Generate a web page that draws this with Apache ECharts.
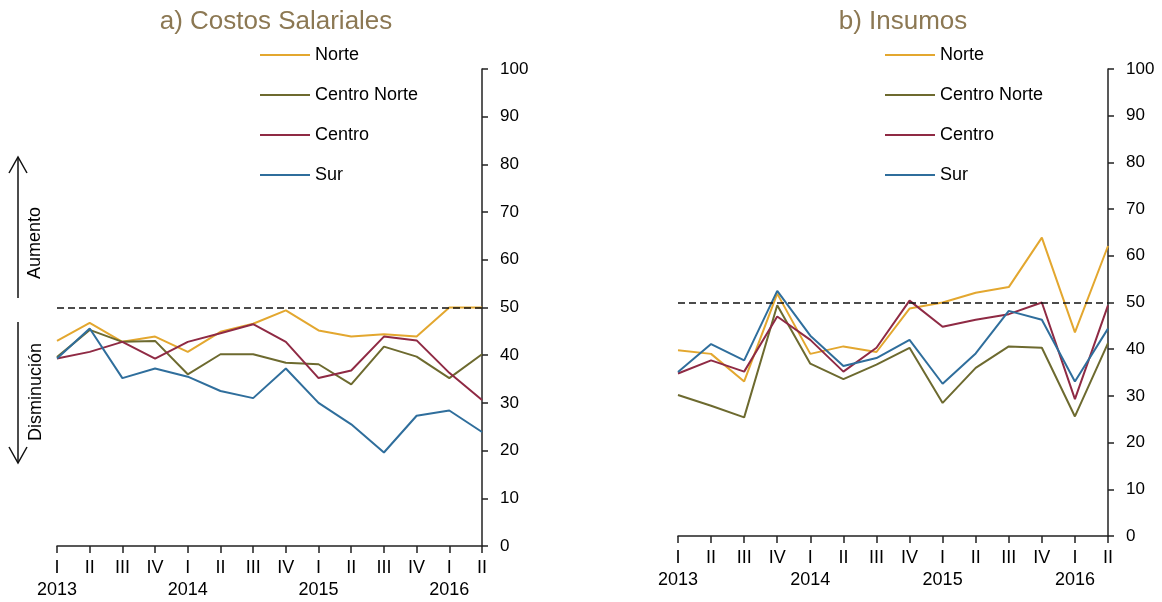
<!DOCTYPE html>
<html>
<head>
<meta charset="utf-8">
<script src="https://cdn.jsdelivr.net/npm/echarts@6/dist/echarts.min.js"></script>
<style>
  html, body { margin: 0; padding: 0; background: #fff; }
  #chart { width: 1162px; height: 602px; }
</style>
</head>
<body>
<div id="chart"></div>
<script>
var quarters = ["I", "II", "III", "IV", "I", "II", "III", "IV", "I", "II", "III", "IV", "I", "II"];
var years = ["2013", "", "", "", "2014", "", "", "", "2015", "", "", "", "2016", ""];
var regions = ["Norte", "Centro Norte", "Centro", "Sur"];
var colors = ["#E3A72F", "#6D6A2F", "#8F2A44", "#2F6E9C"];

// a) Costos Salariales
var salNorte = [43.0, 46.8, 42.8, 43.9, 40.7, 44.9, 46.6, 49.4, 45.2, 43.9, 44.4, 43.9, 50.0, 50.0];
var salCentroNorte = [39.6, 45.3, 42.8, 43.0, 36.0, 40.2, 40.2, 38.4, 38.1, 33.9, 41.8, 39.7, 35.2, 40.2];
var salCentro = [39.3, 40.7, 42.8, 39.3, 42.8, 44.6, 46.5, 42.8, 35.2, 36.8, 43.9, 43.1, 36.3, 30.6];
var salSur = [39.3, 45.6, 35.2, 37.2, 35.5, 32.5, 31.0, 37.2, 30.0, 25.5, 19.6, 27.3, 28.4, 23.9];

// b) Insumos
var insNorte = [39.8, 39.0, 33.1, 51.9, 39.0, 40.6, 39.4, 48.7, 50.0, 52.1, 53.3, 63.9, 43.6, 62.1];
var insCentroNorte = [30.2, 27.9, 25.4, 49.4, 36.9, 33.6, 36.7, 40.3, 28.5, 36.0, 40.6, 40.3, 25.6, 41.3];
var insCentro = [34.8, 37.6, 35.2, 47.0, 42.0, 35.2, 40.3, 50.4, 44.8, 46.3, 47.5, 50.0, 29.3, 49.4];
var insSur = [35.1, 41.1, 37.6, 52.5, 42.9, 36.4, 38.1, 42.0, 32.6, 39.1, 48.2, 46.3, 33.1, 44.4];

var threshold = 50;
var font = "Liberation Sans, Arial, sans-serif";

var chart = echarts.init(document.getElementById("chart"));

function xAxisFor(idx) {
  return {
    gridIndex: idx,
    type: "category",
    data: quarters,
    boundaryGap: false,
    axisLine: { lineStyle: { color: "#222", width: 1.5 } },
    axisTick: { show: true, interval: 0, length: 7, lineStyle: { color: "#222", width: 1.5 } },
    axisLabel: {
      interval: 0,
      color: "#000",
      fontSize: 18,
      fontFamily: font,
      lineHeight: 22,
      margin: 11,
      formatter: function (v, i) {
        return v + "\n" + (years[i] || " ");
      }
    },
    splitLine: { show: false }
  };
}

function yAxisFor(idx) {
  return {
    gridIndex: idx,
    type: "value",
    position: "right",
    min: 0,
    max: 100,
    interval: 10,
    axisLine: { show: true, lineStyle: { color: "#222", width: 1.5 } },
    axisTick: { show: true, length: 6, lineStyle: { color: "#222", width: 1.5 } },
    axisLabel: { color: "#000", fontSize: 17, fontFamily: font, margin: 18 },
    splitLine: { show: false }
  };
}

function lineSeries(name, data, idx, color, withMark) {
  var s = {
    name: name,
    type: "line",
    xAxisIndex: idx,
    yAxisIndex: idx,
    data: data,
    symbol: "none",
    lineStyle: { color: color, width: 2 },
    itemStyle: { color: color },
    animation: false
  };
  if (withMark) {
    s.markLine = {
      silent: true,
      symbol: "none",
      label: { show: false },
      lineStyle: { color: "#111", type: [7, 4], width: 1.5 },
      data: [{ yAxis: threshold }]
    };
  }
  return s;
}

var legendBase = {
  orient: "vertical",
  icon: "rect",
  padding: 0,
  itemWidth: 50,
  itemHeight: 2,
  itemGap: 20,
  textStyle: { color: "#000", fontSize: 18, fontFamily: font, lineHeight: 20 },
  data: regions
};

var option = {
  backgroundColor: "#fff",
  textStyle: { fontFamily: font },
  title: [
    { text: "a) Costos Salariales", left: 271, top: 4, textAlign: "center",
      textStyle: { color: "#8C7853", fontSize: 26, fontWeight: "normal", fontFamily: font } },
    { text: "b) Insumos", left: 898, top: 4, textAlign: "center",
      textStyle: { color: "#8C7853", fontSize: 26, fontWeight: "normal", fontFamily: font } }
  ],
  legend: [
    Object.assign({}, legendBase, { left: 260, top: 45 }),
    Object.assign({}, legendBase, { left: 885, top: 45 })
  ],
  grid: [
    { left: 57, right: 680, top: 69, bottom: 56 },
    { left: 678, right: 54, top: 69, bottom: 66 }
  ],
  xAxis: [xAxisFor(0), xAxisFor(1)],
  yAxis: [yAxisFor(0), yAxisFor(1)],
  series: [
    lineSeries(regions[0], salNorte, 0, colors[0], true),
    lineSeries(regions[1], salCentroNorte, 0, colors[1]),
    lineSeries(regions[2], salCentro, 0, colors[2]),
    lineSeries(regions[3], salSur, 0, colors[3]),
    lineSeries(regions[0], insNorte, 1, colors[0], true),
    lineSeries(regions[1], insCentroNorte, 1, colors[1]),
    lineSeries(regions[2], insCentro, 1, colors[2]),
    lineSeries(regions[3], insSur, 1, colors[3])
  ],
  graphic: [
    // up arrow
    { type: "line", shape: { x1: 18, y1: 157, x2: 18, y2: 298 }, style: { stroke: "#111", lineWidth: 1.5 } },
    { type: "polyline", shape: { points: [[9, 173], [18, 157], [27, 173]] }, style: { stroke: "#111", lineWidth: 1.5, fill: null } },
    { type: "text", x: 35, y: 243, rotation: Math.PI / 2,
      style: { text: "Aumento", fill: "#000", fontSize: 18, fontFamily: font, align: "center", verticalAlign: "middle" } },
    // down arrow
    { type: "line", shape: { x1: 18, y1: 322, x2: 18, y2: 463 }, style: { stroke: "#111", lineWidth: 1.5 } },
    { type: "polyline", shape: { points: [[9, 447], [18, 463], [27, 447]] }, style: { stroke: "#111", lineWidth: 1.5, fill: null } },
    { type: "text", x: 36, y: 392, rotation: Math.PI / 2,
      style: { text: "Disminución", fill: "#000", fontSize: 18, fontFamily: font, align: "center", verticalAlign: "middle" } }
  ]
};

chart.setOption(option);
</script>
</body>
</html>
